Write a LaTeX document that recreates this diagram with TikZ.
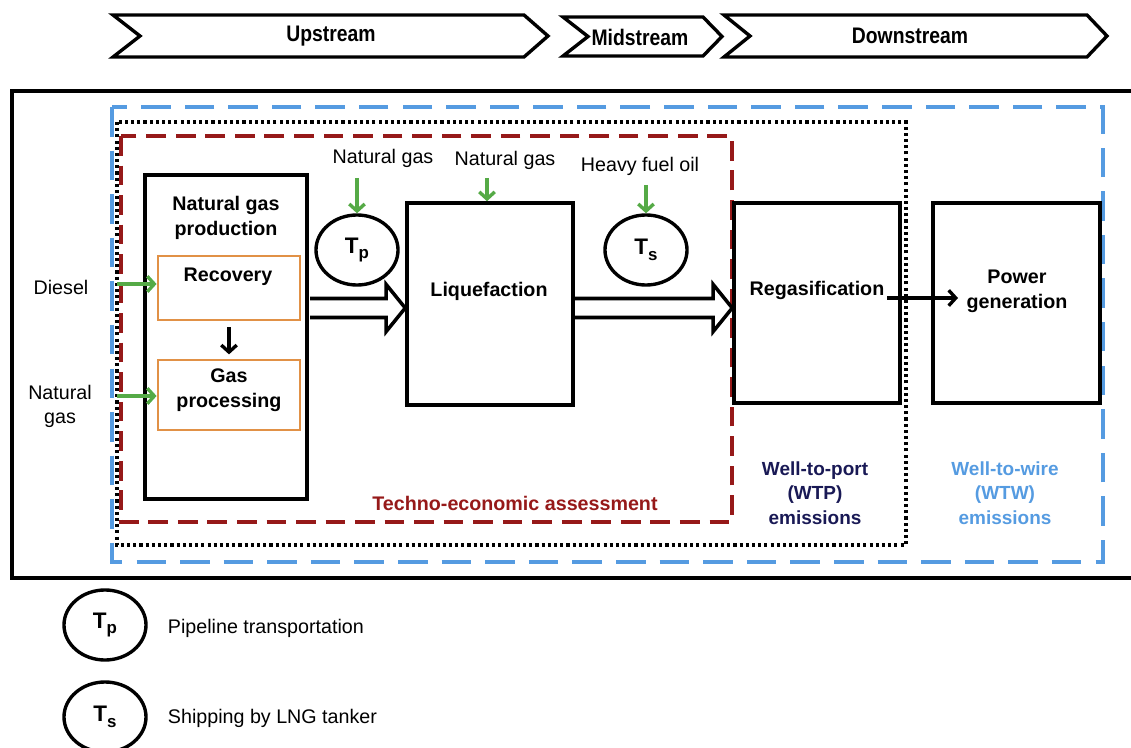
\documentclass[tikz,border=0pt]{standalone}
\usepackage{fontspec}
\setmainfont{Liberation Sans}
\usetikzlibrary{arrows.meta,calc,shapes.geometric}
\definecolor{wtwblue}{RGB}{85,155,225}
\definecolor{teared}{RGB}{150,25,25}
\definecolor{wtpnavy}{RGB}{25,25,85}
\definecolor{flowgreen}{RGB}{85,170,70}
\definecolor{boxorange}{RGB}{225,145,70}
\newcommand{\hollowarrow}[2]{\draw[blk] ($(#1)+(0,-9.5)$) -- ($(#2)+(-19,-9.5)$) -- ($(#2)+(-19,-23.5)$) -- (#2) -- ($(#2)+(-19,23.5)$) -- ($(#2)+(-19,9.5)$) -- ($(#1)+(0,9.5)$);}
\newcommand{\tsub}[1]{T\raisebox{-0.45ex}{\fontsize{12}{12}\selectfont #1}}
\newcommand{\narrowtxt}[1]{\scalebox{0.86}[1]{#1}}
\begin{document}
\begin{tikzpicture}[x=0.025cm,y=-0.025cm,
  every node/.style={font=\fontsize{14}{18}\selectfont},
  chev/.style={draw, line width=2.4pt, fill=white, line join=miter},
  chevlbl/.style={font=\fontsize{16}{18}\selectfont\bfseries},
  procbox/.style={draw, line width=2.5pt, rectangle, inner sep=0pt},
  subbox/.style={draw=boxorange, line width=2pt, rectangle, inner sep=0pt},
  tcircle/.style={draw, ellipse, line width=2.4pt, inner sep=0pt, minimum width=2.05cm, minimum height=1.75cm, font=\fontsize{16}{16}\selectfont\bfseries},
  greenarrow/.style={draw=flowgreen, line width=2.4pt, -{Straight Barb[length=5pt,width=11pt]}},
  blackarrow/.style={draw=black, line width=2.4pt, -{Straight Barb[length=5pt,width=11pt]}},
  blk/.style={draw, line width=2.5pt, fill=white, line join=miter},
  boldlbl/.style={align=center, font=\fontsize{14}{18}\selectfont\bfseries},
  emlbl/.style={align=center, font=\fontsize{13.5}{17.4}\selectfont\bfseries}]
\useasboundingbox (0,0) rectangle (1131,748);
\clip (0,0) rectangle (1131,748);
% chevrons
\draw[chev] (113,15) -- (524,15) -- (548,36) -- (524,57) -- (113,57) -- (140,36) -- cycle;
\draw[chev] (563,17) -- (703,17) -- (722,36.5) -- (703,56) -- (563,56) -- (588,36.5) -- cycle;
\draw[chev] (724,15) -- (1087,15) -- (1107,36) -- (1087,57) -- (724,57) -- (750,36) -- cycle;
\node[chevlbl] (up) at (331,36) {\narrowtxt{Upstream}};
\node[chevlbl] (mid) at (640,37) {\narrowtxt{Midstream}};
\node[chevlbl] (down) at (910,36) {\narrowtxt{Downstream}};
% frames
\draw[line width=2.5pt] (12,91) rectangle (1145,578);
\draw[wtwblue, line width=2.6pt, dash pattern=on 21pt off 10pt] (112,107) rectangle (1103,562);
\draw[black, line width=2.3pt, dash pattern=on 2.2pt off 2.2pt] (117,122) rectangle (906,545);
\draw[teared, line width=2.6pt, dash pattern=on 14pt off 7pt] (121,136) rectangle (732,522);
% boxes
\node[procbox, minimum width=4.05cm, minimum height=8.1cm] (prod) at (226,337) {};
\node[boldlbl] (prodt) at (226,218) {Natural gas\\production};
\node[subbox, minimum width=3.55cm, minimum height=1.6cm] (rec) at (229,288) {};
\node[boldlbl] (rect) at (228,277) {Recovery};
\node[subbox, minimum width=3.55cm, minimum height=1.75cm] (proc) at (229,395) {};
\node[boldlbl] (proct) at (229,390) {Gas\\processing};
\node[procbox, minimum width=4.15cm, minimum height=5.05cm] (liq) at (490,304) {};
\node[boldlbl] (liqt) at (489,291) {Liquefaction};
\node[procbox, minimum width=4.15cm, minimum height=5cm] (regas) at (817,303) {};
\node[boldlbl] (regast) at (817,290) {Regasification};
\node[procbox, minimum width=4.175cm, minimum height=5cm] (power) at (1016.5,303) {};
\node[boldlbl] (powert) at (1017,291) {Power\\generation};
% transport circles
\node[tcircle] (tp) at (357,250) {\tsub{p}};
\node[tcircle] (ts) at (646,250) {\tsub{s}};
% input labels
\node (dl) at (61,287) {Diesel};
\node[align=center, font=\fontsize{14}{17}\selectfont] (ngl) at (60,406) {Natural\\gas};
\node (ng1) at (383,158) {Natural gas};
\node (ng2) at (505,160) {Natural gas};
\node (hfo) at (640,166) {Heavy fuel oil};
% green input arrows
\coordinate (dsrc) at (117,284);
\coordinate (ngsrc) at (117,396);
\coordinate (ng1src) at (357,178);
\coordinate (ng2src) at (487,178);
\coordinate (hfosrc) at (646,185);
\draw[greenarrow] (dsrc) -- (dsrc -| rec.west);
\draw[greenarrow] (ngsrc) -- (ngsrc -| proc.west);
\draw[greenarrow] (ng1src) -- (tp.north);
\draw[greenarrow] (ng2src) -- (ng2src |- liq.north);
\draw[greenarrow] (hfosrc) -- (ts.north);
% black arrows
\draw[blackarrow, shorten <=4pt, shorten >=3pt] (rec.south) -- (proc.north);
\coordinate (rgo) at (887,298);
\coordinate (rgi) at (958,298);
\draw[blackarrow] (rgo) -- (rgi);
% hollow arrows
\coordinate (h1s) at (310,308);
\coordinate (h1e) at (liq.west |- h1s);
\coordinate (h2s) at (575,308);
\coordinate (h2e) at (regas.west |- h2s);
\hollowarrow{h1s}{h1e}
\hollowarrow{h2s}{h2e}
% scope labels
\node[boldlbl, text=teared] (teal) at (515,503) {Techno-economic assessment};
\node[emlbl, text=wtpnavy] (wtpl) at (815,493) {Well-to-port\\(WTP)\\emissions};
\node[emlbl, text=wtwblue] (wtwl) at (1005,493) {Well-to-wire\\(WTW)\\emissions};
% legend
\node[tcircle] (ltp) at (105,625) {\tsub{p}};
\node[tcircle] (lts) at (105,717) {\tsub{s}};
\node[anchor=west] (pl) at (163,628) {Pipeline transportation};
\node[anchor=west] (sl) at (163,718) {Shipping by LNG tanker};
\end{tikzpicture}
\end{document}
